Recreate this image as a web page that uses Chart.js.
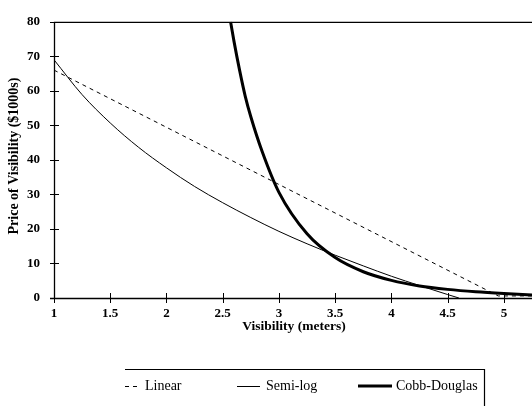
<!DOCTYPE html>
<html><head><meta charset="utf-8">
<script src="https://cdn.jsdelivr.net/npm/chart.js@4/dist/chart.umd.min.js"></script>
<style>html,body{margin:0;padding:0;background:#fff;}#wrap{width:532px;height:406px;position:relative;}</style>
</head><body><div id="wrap"><canvas id="c" width="532" height="406"></canvas></div>
<script>
// Visibility (meters) — x values for each series
const linearX = [1, 4.95, 5.25];
const linearY = [66, 0.6, 0.6];
const semiLogX = [1, 1.25, 1.5, 1.75, 2, 2.25, 2.5, 2.75, 3, 3.25, 3.5, 3.75, 4, 4.25, 4.5, 4.6];
const semiLogY = [69, 58.9, 50.7, 43.7, 37.7, 32.3, 27.6, 23.3, 19.3, 15.7, 12.4, 9.3, 6.3, 3.6, 1.0, 0];
const cobbX = [2.57, 2.6, 2.65, 2.7, 2.75, 2.85, 3, 3.25, 3.5, 3.75, 4, 4.25, 4.5, 4.75, 5, 5.25];
const cobbY = [80, 74.4, 66, 58.5, 52.5, 42.5, 30.6, 18.6, 11.7, 7.6, 5.1, 3.5, 2.5, 1.8, 1.3, 0.9];
const xTicks = [1, 1.5, 2, 2.5, 3, 3.5, 4, 4.5, 5];
const xTickLabels = ['1', '1.5', '2', '2.5', '3', '3.5', '4', '4.5', '5'];
const yTicks = [0, 10, 20, 30, 40, 50, 60, 70, 80];
const xTitle = 'Visibility (meters)';
const yTitle = 'Price of Visibility ($1000s)';
const seriesNames = ['Linear', 'Semi-log', 'Cobb-Douglas'];

const pts = (xs, ys) => xs.map((x, i) => ({x: x, y: ys[i]}));
const SERIF = '"Liberation Serif", "Times New Roman", serif';

const decor = {
  id: 'decor',
  afterDraw(chart) {
    const ctx = chart.ctx, a = chart.chartArea;
    const xs = chart.scales.x, ys = chart.scales.y;
    ctx.save();
    ctx.strokeStyle = '#000';
    ctx.lineWidth = 1.3;
    ctx.beginPath();
    ctx.moveTo(a.left + 0.5, a.top); ctx.lineTo(a.left + 0.5, a.bottom);
    ctx.moveTo(a.left - 4, a.bottom + 0.5); ctx.lineTo(a.right, a.bottom + 0.5);
    ctx.moveTo(a.left, a.top + 0.5); ctx.lineTo(a.right, a.top + 0.5);
    ctx.stroke();
    ctx.lineWidth = 1;
    ctx.beginPath();
    yTicks.forEach(v => { const p = Math.round(ys.getPixelForValue(v)) + 0.5; ctx.moveTo(a.left - 4, p); ctx.lineTo(a.left + 5, p); });
    xTicks.forEach(v => { const p = Math.round(xs.getPixelForValue(v)) + 0.5; ctx.moveTo(p, a.bottom - 5); ctx.lineTo(p, a.bottom + 5); });
    ctx.stroke();
    ctx.fillStyle = '#000';
    ctx.textAlign = 'center'; ctx.textBaseline = 'middle';
    ctx.font = 'bold 13.5px ' + SERIF;
    ctx.fillText(xTitle, (a.left + a.right) / 2 + 1, 327);
    ctx.save();
    ctx.font = 'bold 14px ' + SERIF;
    ctx.translate(14, 156); ctx.rotate(-Math.PI / 2);
    ctx.fillText(yTitle, 0, 0);
    ctx.restore();
    ctx.lineWidth = 1.2;
    ctx.beginPath();
    ctx.moveTo(125, 369.5); ctx.lineTo(484, 369.5);
    ctx.moveTo(484.5, 369); ctx.lineTo(484.5, 406);
    ctx.stroke();
    const ly = 386;
    ctx.lineWidth = 1;
    ctx.setLineDash([4, 4]);
    ctx.beginPath(); ctx.moveTo(125, ly + 0.5); ctx.lineTo(141, ly + 0.5); ctx.stroke();
    ctx.setLineDash([]);
    ctx.beginPath(); ctx.moveTo(237, ly + 0.5); ctx.lineTo(260, ly + 0.5); ctx.stroke();
    ctx.lineWidth = 3;
    ctx.beginPath(); ctx.moveTo(358, ly); ctx.lineTo(392, ly); ctx.stroke();
    ctx.font = '14px ' + SERIF;
    ctx.textAlign = 'left';
    ctx.fillText(seriesNames[0], 145, ly);
    ctx.fillText(seriesNames[1], 266, ly);
    ctx.fillText(seriesNames[2], 396, ly);
    ctx.restore();
  }
};

new Chart(document.getElementById('c'), {
  type: 'scatter',
  data: {
    datasets: [
      {label: seriesNames[0], data: pts(linearX, linearY), showLine: true, borderColor: '#000', borderWidth: 1, borderDash: [4, 4], pointRadius: 0, tension: 0},
      {label: seriesNames[1], data: pts(semiLogX, semiLogY), showLine: true, borderColor: '#000', borderWidth: 1, pointRadius: 0, cubicInterpolationMode: 'monotone'},
      {label: seriesNames[2], data: pts(cobbX, cobbY), showLine: true, borderColor: '#000', borderWidth: 3, pointRadius: 0, cubicInterpolationMode: 'monotone'}
    ]
  },
  options: {
    responsive: false, animation: false,
    layout: {padding: {top: 21, right: 0, left: 0, bottom: 0}},
    plugins: {legend: {display: false}, tooltip: {enabled: false}},
    scales: {
      x: {
        type: 'linear', min: 1, max: 5.25,
        afterBuildTicks: s => { s.ticks = xTicks.map(v => ({value: v})); },
        afterFit: s => { s.height = 108; s.paddingLeft = 0; s.paddingRight = 0; },
        grid: {display: false, drawTicks: false},
        border: {display: false},
        ticks: {color: '#000', padding: 8, maxRotation: 0, autoSkip: false,
                callback: (v, i) => xTickLabels[i],
                font: {family: SERIF, size: 13, weight: 'bold'}}
      },
      y: {
        type: 'linear', min: 0, max: 80,
        afterBuildTicks: s => { s.ticks = yTicks.map(v => ({value: v})); },
        afterFit: s => { s.width = 54; },
        grid: {display: false, drawTicks: false},
        border: {display: false},
        ticks: {color: '#000', padding: 14, font: {family: SERIF, size: 13, weight: 'bold'}}
      }
    }
  },
  plugins: [decor]
});
</script>
</body></html>
